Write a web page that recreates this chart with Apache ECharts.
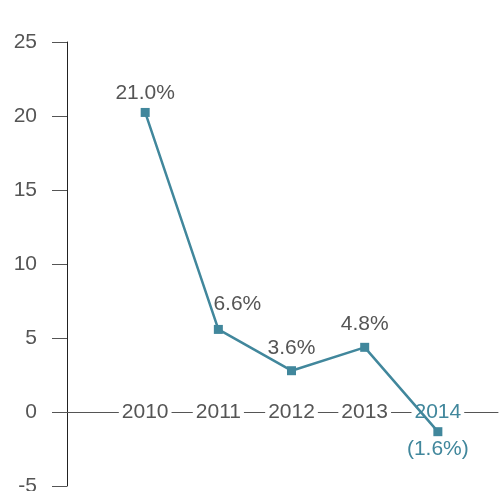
<!DOCTYPE html>
<html>
<head>
<meta charset="utf-8">
<script src="https://cdn.jsdelivr.net/npm/echarts@6/dist/echarts.min.js"></script>
<style>
html,body{margin:0;padding:0;background:#fff;}
#c{width:499px;height:491px;}
</style>
</head>
<body>
<div id="c"></div>
<script>
// ---- data ----
const years = ['2010', '2011', '2012', '2013', '2014'];
const growth = [20.24, 5.58, 2.79, 4.37, -1.33];
const pointLabels = ['21.0%', '6.6%', '3.6%', '4.8%', '(1.6%)'];
const yTicks = [-5, 0, 5, 10, 15, 20, 25];

// ---- styling ----
const TEAL = '#41879c';
const GREY = '#555555';
const FONT = 'Liberation Sans, Arial, Helvetica, sans-serif';
const labelOffsets = { 0: [0, 4], 1: [19, -2] };
const GRID_TOP = 42, GRID_BOTTOM = 5, H = 491;

const chart = echarts.init(document.getElementById('c'), null, { renderer: 'canvas' });

const yMin = yTicks[0], yMax = yTicks[yTicks.length - 1];
const plotH = H - GRID_TOP - GRID_BOTTOM;
// distance from grid bottom up to the value 0 (axis sits at zero)
const zeroLift = plotH * (0 - yMin) / (yMax - yMin);

const seriesData = growth.map((v, i) => {
  const neg = v < 0;
  const item = { value: [i, v] };
  item.label = {
    position: neg ? 'bottom' : 'top',
    distance: neg ? 3 : 8,
    color: neg ? TEAL : GREY,
    offset: labelOffsets[i] || [0, 0]
  };
  return item;
});

chart.setOption({
  animation: false,
  backgroundColor: '#fff',
  grid: { left: 67, right: 1, top: GRID_TOP, bottom: GRID_BOTTOM, containLabel: false, outerBoundsMode: 'none' },
  xAxis: {
    type: 'value',
    position: 'bottom',
    offset: -zeroLift,
    min: -1.0685,
    max: 4.8219,
    z: 3,
    splitLine: { show: false },
    axisTick: { show: false },
    axisLine: { show: true, onZero: false, lineStyle: { color: GREY, width: 1 } },
    axisLabel: {
      customValues: years.map((y, i) => i),
      margin: 0,
      verticalAlign: 'middle',
      fontSize: 21,
      fontFamily: FONT,
      color: GREY,
      backgroundColor: '#fff',
      padding: [0, 3],
      formatter: function (v) {
        const i = Math.round(v);
        return growth[i] < 0 ? '{neg|' + years[i] + '}' : years[i];
      },
      rich: {
        neg: { color: TEAL, fontSize: 21, fontFamily: FONT }
      }
    }
  },
  yAxis: {
    type: 'value',
    min: yMin,
    max: yMax,
    interval: 5,
    splitLine: { show: false },
    axisLine: { show: true, onZero: false, lineStyle: { color: '#222', width: 1 } },
    axisTick: { show: true, inside: false, length: 15, lineStyle: { color: GREY, width: 1 } },
    axisLabel: { margin: 30, fontSize: 21, fontFamily: FONT, color: GREY }
  },
  series: [{
    type: 'line',
    data: seriesData,
    symbol: 'rect',
    symbolSize: 9,
    itemStyle: { color: TEAL },
    lineStyle: { color: TEAL, width: 2.5 },
    label: {
      show: true,
      fontSize: 21,
      fontFamily: FONT,
      formatter: function (p) { return pointLabels[p.dataIndex]; }
    }
  }]
});
</script>
</body>
</html>
